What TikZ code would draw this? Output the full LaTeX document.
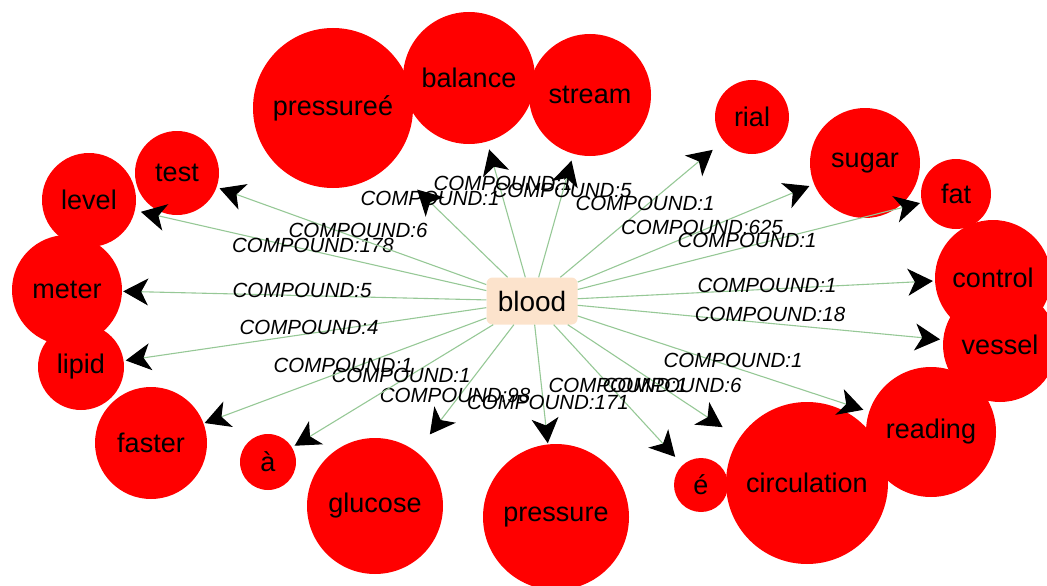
\documentclass[tikz,border=0pt]{standalone}
\usepackage{fontspec}
\setmainfont{Liberation Sans}
\usepackage{tikz}
\usetikzlibrary{arrows.meta}
\definecolor{nodered}{RGB}{255,0,0}
\definecolor{boxpeach}{RGB}{252,227,204}
\definecolor{edgegreen}{RGB}{150,200,150}

\begin{document}
\begin{tikzpicture}[x=1pt,y=-1pt,
    word/.style={circle, fill=nodered, inner sep=0pt, font=\fontsize{27}{27}\selectfont},
    link/.style={edgegreen, line width=1.1pt, -{Stealth[color=black, length=25pt, width=27pt, inset=7pt]}},
    tag/.style={font=\fontsize{20.5}{20.5}\selectfont\itshape, inner sep=0pt}]
        \useasboundingbox (0,0) rectangle (1047,586);
        \foreach \nm/\px/\py/\rad/\txt in {pe/333/108/80/pressureé, bal/469/78/66/balance, str/590/95/61/stream,
            rial/752/117/37/rial, sug/865/163/55/sugar, fat/956/194/35/fat, ves/1000/345/57/vessel,
            ctl/993/278/58/control, rd/931/432/65/reading, circ/807/483/81/circulation, e/701/485/27/é,
            pr/556/517/73/pressure, glu/375/506/68/glucose, a/268/462/28/à, fst/151/443/56/faster,
            lip/81/367/43/lipid, met/67/290/55/meter, lev/89/200/47/level, tst/177/173/42/test} {
            \pgfmathsetmacro\dia{2*\rad}
            \node[word, minimum size=\dia pt] (\nm) at (\px,\py) {\txt};
        }
        \node[fill=boxpeach, rounded corners=6pt, minimum width=91pt, minimum height=47pt,
            font=\fontsize{28}{28}\selectfont] (blood) at (532,301) {blood};
        \foreach \nm/\gap/\lx/\ly/\txt in {pe/37/430/198/COMPOUND:1, bal/8/503/183/COMPOUND:1,
            str/7/562/190/COMPOUND:5, rial/14/645/203/COMPOUND:1, sug/5/702/227/COMPOUND:625,
            fat/2/747/240/COMPOUND:1, ctl/2/767/285/COMPOUND:1, ves/3/770/314/COMPOUND:18,
            rd/6/733/360/COMPOUND:1, e/11/618/385/COMPOUND:1, circ/20/672/385/COMPOUND:6,
            glu/22/455/395/COMPOUND:98, pr/1/548/402/COMPOUND:171, a/3/401/375/COMPOUND:1,
            fst/1/343/365/COMPOUND:1, lip/2/309/327/COMPOUND:4, met/1/302/290/COMPOUND:5,
            lev/6/313/245/COMPOUND:178, tst/3/358/230/COMPOUND:6} {
            \draw[link, shorten >=\gap pt] (blood) -- (\nm);
            \node[tag] (l-\nm) at (\lx,\ly) {\txt};
        }
    \end{tikzpicture}
\end{document}
